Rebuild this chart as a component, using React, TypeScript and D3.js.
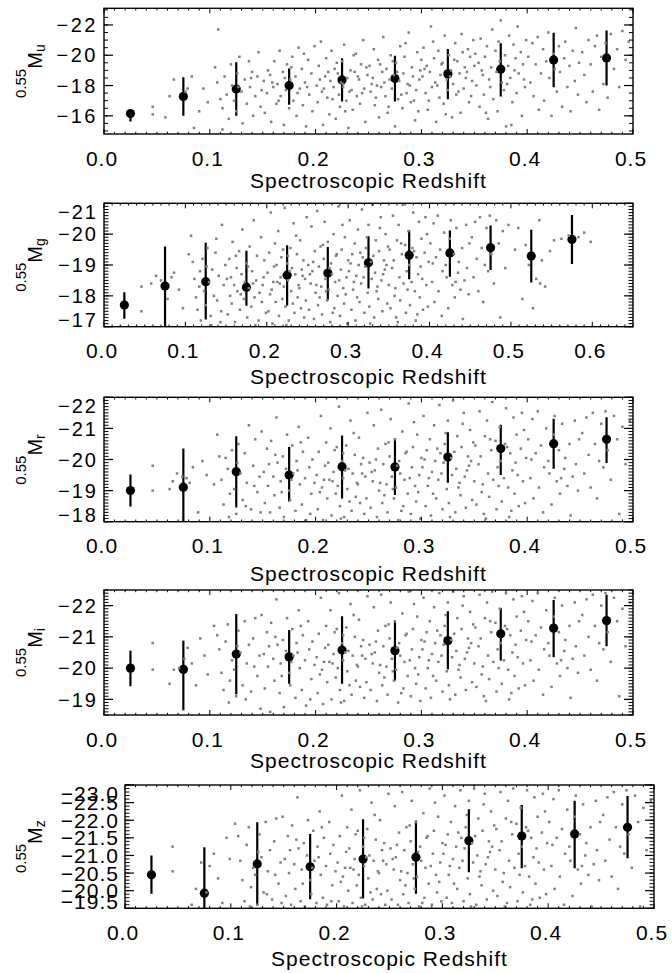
import React from "react";
import * as d3 from "d3";

type Pt = [number, number];

// ---------- binned means (black symbols) ----------
const binZ = [0.025, 0.075, 0.125, 0.175, 0.225, 0.275, 0.325, 0.375, 0.425, 0.475];
const binZg = [0.025, 0.075, 0.125, 0.175, 0.225, 0.275, 0.325, 0.375, 0.425, 0.475, 0.525, 0.575];

const uMean = [-16.15, -17.28, -17.77, -18.0, -18.37, -18.46, -18.77, -19.08, -19.69, -19.82];
const uUpper = [-16.33, -18.55, -19.54, -19.13, -19.8, -19.96, -20.42, -20.8, -21.49, -21.63];
const uLower = [-15.62, -16.0, -16.0, -16.73, -16.94, -16.94, -17.1, -17.27, -17.89, -18.0];

const gMean = [-17.7, -18.32, -18.46, -18.28, -18.67, -18.74, -19.07, -19.32, -19.39, -19.56, -19.29, -19.83];
const gUpper = [-18.12, -19.6, -19.72, -19.46, -19.64, -19.58, -19.93, -20.12, -20.12, -20.28, -20.14, -20.62];
const gLower = [-17.26, -17.0, -17.23, -17.68, -17.68, -17.87, -18.24, -18.54, -18.62, -18.84, -18.43, -19.03];

const rMean = [-19.0, -19.11, -19.61, -19.5, -19.77, -19.76, -20.08, -20.35, -20.51, -20.65];
const rUpper = [-19.52, -20.35, -20.75, -20.4, -20.77, -20.67, -20.88, -21.12, -21.31, -21.36];
const rLower = [-18.49, -17.9, -18.46, -18.65, -18.75, -18.86, -19.25, -19.5, -19.7, -19.89];

const iMean = [-20.0, -19.96, -20.45, -20.36, -20.58, -20.56, -20.88, -21.1, -21.28, -21.52];
const iUpper = [-20.56, -20.88, -21.73, -21.22, -21.66, -21.52, -21.82, -21.92, -22.18, -22.35];
const iLower = [-19.42, -18.65, -19.16, -19.5, -19.5, -19.6, -19.96, -20.24, -20.35, -20.7];

const zMean = [-20.45, -19.93, -20.76, -20.68, -20.9, -20.95, -21.42, -21.55, -21.61, -21.8];
const zUpper = [-21.0, -21.23, -21.94, -21.61, -22.03, -21.99, -22.31, -22.43, -22.55, -22.69];
const zLower = [-19.91, -19.45, -19.59, -19.76, -19.78, -19.91, -20.52, -20.64, -20.64, -20.92];

// ---------- tick labels ----------
const xTicksA = [0, 0.1, 0.2, 0.3, 0.4, 0.5];
const xTicksG = [0, 0.1, 0.2, 0.3, 0.4, 0.5, 0.6];
const uTicks = [-16, -18, -20, -22];
const gTicks = [-17, -18, -19, -20, -21];
const rTicks = [-18, -19, -20, -21, -22];
const iTicks = [-19, -20, -21, -22];
const zTicks = [-19.5, -20.0, -20.5, -21.0, -21.5, -22.0, -22.5, -23.0];

// ---------- individual galaxies (grey points): [redshift, magnitude] ----------
const uPoints: Pt[] = [
[.046,-16.6],[.046,-16.1],[.058,-15.9],[.062,-17.3],[.066,-18.4],[.077,-17.6],[.079,-17.8],[.083,-18.6],[.085,-15.2],[.090,-16.3],[.094,-17.8],[.098,-16.9],
[.108,-21.7],[.105,-19.2],[.107,-18.2],[.110,-17.1],[.112,-16.5],[.114,-18.6],[.116,-17.4],[.118,-15.8],[.120,-19.4],[.121,-18.0],[.123,-17.0],[.125,-16.3],[.126,-18.8],[.128,-19.9],[.130,-17.6],[.131,-15.5],[.133,-18.4],[.135,-16.8],[.137,-19.6],[.138,-17.9],[.140,-18.9],[.141,-16.0],[.143,-17.3],[.145,-18.6],[.146,-20.2],[.148,-16.6],[.149,-17.7],[.112,-15.1],[.127,-17.9],[.139,-18.5],
[.151,-18.3],[.152,-16.2],[.154,-17.5],[.155,-19.0],[.157,-18.7],[.158,-15.6],[.160,-17.9],[.161,-19.6],[.163,-16.8],[.164,-18.1],[.166,-20.3],[.167,-17.3],[.169,-18.9],[.170,-15.4],[.172,-17.7],[.173,-19.4],[.175,-16.5],[.176,-18.4],[.178,-19.9],[.179,-17.0],[.181,-18.6],[.182,-16.0],[.184,-20.5],[.185,-17.8],[.187,-19.1],[.188,-16.7],[.190,-18.2],[.191,-15.3],[.193,-19.7],[.194,-17.4],[.196,-18.8],[.197,-16.3],[.199,-20.6],[.159,-18.2],[.171,-18.5],[.183,-17.5],[.192,-17.9],[.177,-19.2],[.165,-17.0],[.189,-20.1],
[.201,-18.0],[.202,-16.9],[.203,-19.3],[.205,-20.9],[.206,-17.6],[.207,-15.4],[.209,-18.6],[.210,-19.8],[.211,-17.2],[.213,-16.1],[.214,-18.3],[.215,-20.3],[.217,-17.9],[.218,-19.1],[.219,-15.8],[.221,-18.8],[.222,-17.4],[.223,-16.6],[.225,-19.6],[.226,-18.1],[.227,-20.7],[.229,-17.0],[.230,-18.5],[.231,-15.2],[.233,-19.0],[.234,-17.7],[.235,-16.4],[.237,-18.9],[.238,-20.1],[.239,-17.3],[.241,-18.4],[.242,-16.8],[.243,-19.4],[.245,-21.0],[.246,-17.8],[.247,-15.6],[.249,-18.7],[.204,-18.4],[.212,-18.9],[.216,-17.1],[.220,-19.5],[.224,-18.2],[.228,-16.3],[.232,-17.6],[.236,-20.0],[.240,-18.6],[.244,-17.5],[.248,-19.2],[.208,-17.8],[.226,-17.9],
[.251,-19.3],[.252,-17.6],[.254,-18.5],[.255,-20.4],[.256,-16.7],[.258,-18.0],[.259,-19.7],[.260,-15.9],[.262,-17.9],[.263,-18.9],[.264,-21.2],[.266,-17.3],[.267,-19.1],[.268,-16.2],[.270,-18.4],[.271,-20.0],[.272,-17.8],[.274,-18.7],[.275,-15.3],[.276,-19.5],[.278,-17.1],[.279,-18.3],[.280,-20.6],[.282,-16.5],[.283,-18.8],[.284,-19.9],[.286,-17.5],[.287,-18.1],[.288,-21.5],[.290,-16.9],[.291,-19.2],[.292,-18.6],[.294,-15.7],[.295,-17.7],[.296,-20.2],[.298,-18.4],[.299,-19.0],[.253,-18.1],[.257,-17.2],[.261,-19.4],[.265,-18.2],[.269,-16.6],[.273,-19.6],[.277,-18.9],[.281,-17.4],[.285,-20.8],[.289,-18.0],[.293,-17.0],[.297,-16.3],[.300,-19.7],
[.301,-18.6],[.302,-20.5],[.304,-17.5],[.305,-19.3],[.306,-16.4],[.308,-18.9],[.309,-21.9],[.310,-17.9],[.312,-19.8],[.313,-18.2],[.314,-15.6],[.316,-20.3],[.317,-17.2],[.318,-18.7],[.320,-19.5],[.321,-16.8],[.322,-21.3],[.324,-18.4],[.325,-17.7],[.326,-20.0],[.328,-19.0],[.329,-15.9],[.330,-18.1],[.332,-20.8],[.333,-17.4],[.334,-19.6],[.336,-18.8],[.337,-16.2],[.338,-21.4],[.340,-17.8],[.341,-19.2],[.342,-18.5],[.344,-20.4],[.345,-16.9],[.346,-19.9],[.348,-18.3],[.349,-21.0],[.303,-19.1],[.307,-17.0],[.311,-20.9],[.315,-18.0],[.319,-19.4],[.323,-16.1],[.327,-18.6],[.331,-19.7],[.335,-17.6],[.339,-20.2],[.343,-18.9],[.347,-17.3],[.350,-19.3],
[.351,-20.1],[.352,-18.0],[.354,-19.5],[.355,-16.6],[.356,-21.1],[.358,-18.7],[.359,-17.4],[.360,-19.9],[.362,-20.6],[.363,-15.8],[.364,-18.4],[.366,-19.2],[.367,-21.7],[.368,-17.1],[.370,-20.3],[.371,-18.9],[.372,-16.3],[.374,-19.6],[.375,-22.3],[.376,-18.2],[.378,-17.7],[.379,-20.0],[.380,-15.3],[.382,-19.3],[.383,-21.3],[.384,-18.5],[.386,-16.9],[.387,-20.7],[.388,-19.0],[.390,-17.5],[.391,-21.9],[.392,-18.8],[.394,-20.2],[.395,-16.0],[.396,-19.4],[.398,-17.9],[.399,-21.0],[.357,-19.0],[.365,-17.9],[.373,-20.9],[.381,-18.1],[.389,-19.8],[.397,-18.4],[.361,-16.2],[.385,-15.4],
[.401,-19.9],[.403,-18.2],[.405,-20.8],[.406,-17.3],[.408,-19.4],[.410,-21.2],[.411,-16.4],[.413,-18.8],[.415,-20.4],[.416,-17.0],[.418,-19.6],[.420,-21.5],[.421,-18.5],[.423,-16.0],[.425,-20.1],[.426,-19.1],[.428,-17.6],[.430,-20.6],[.431,-18.9],[.433,-16.6],[.435,-19.8],[.436,-20.9],[.438,-17.9],[.440,-19.3],[.441,-16.3],[.443,-20.3],[.445,-18.3],[.446,-21.8],[.448,-17.4],[.449,-19.5],
[.452,-20.2],[.454,-18.7],[.456,-16.9],[.458,-21.0],[.460,-19.4],[.462,-17.6],[.464,-20.6],[.466,-21.3],[.468,-16.4],[.470,-19.9],[.472,-18.1],[.474,-20.8],[.476,-17.2],[.479,-21.4],[.482,-19.1],[.485,-20.4],[.487,-17.9],[.490,-21.6],[.493,-19.7],[.496,-20.9]
];

const gPoints: Pt[] = [
[.046,-18.3],[.046,-17.5],[.058,-18.4],[.064,-18.65],[.070,-18.5],[.078,-17.9],[.083,-18.6],[.086,-18.75],[.092,-18.2],[.097,-17.6],
[.104,-19.35],[.107,-19.95],[.109,-19.1],[.111,-18.55],[.113,-17.95],[.115,-17.55],[.117,-18.3],[.119,-17.2],[.121,-19.2],[.123,-18.15],[.125,-17.7],[.127,-19.55],[.129,-18.45],[.131,-17.35],[.133,-18.85],[.135,-18.0],[.137,-19.4],[.139,-17.85],[.141,-18.65],[.143,-17.15],[.145,-20.3],[.147,-18.35],[.149,-19.0],[.118,-18.8],[.132,-17.05],[.126,-18.95],[.138,-19.85],[.144,-17.5],
[.151,-18.55],[.152,-17.4],[.154,-19.2],[.155,-18.0],[.157,-17.75],[.158,-19.75],[.160,-18.35],[.161,-17.15],[.163,-18.9],[.164,-18.15],[.166,-19.45],[.167,-17.55],[.169,-18.7],[.170,-20.15],[.172,-17.9],[.173,-18.45],[.175,-19.05],[.176,-17.3],[.178,-18.25],[.179,-19.6],[.181,-17.65],[.182,-18.8],[.184,-20.45],[.185,-17.95],[.187,-18.5],[.188,-19.3],[.190,-17.2],[.191,-18.1],[.193,-19.9],[.194,-17.8],[.196,-18.6],[.197,-19.15],[.199,-17.45],[.156,-18.6],[.168,-18.05],[.177,-18.95],[.186,-17.05],[.195,-18.35],[.162,-19.3],[.183,-18.4],
[.201,-18.75],[.202,-17.5],[.203,-19.4],[.205,-20.7],[.206,-18.2],[.207,-17.1],[.209,-18.95],[.210,-19.7],[.211,-17.8],[.213,-18.45],[.214,-20.1],[.215,-17.35],[.217,-18.6],[.218,-19.25],[.219,-17.9],[.221,-18.3],[.222,-20.85],[.223,-17.65],[.225,-19.05],[.226,-18.5],[.227,-17.2],[.229,-19.55],[.230,-18.15],[.231,-18.9],[.233,-20.35],[.234,-17.45],[.235,-18.7],[.237,-19.35],[.238,-17.95],[.239,-18.35],[.241,-19.8],[.242,-17.6],[.243,-18.85],[.245,-19.15],[.246,-17.3],[.247,-18.55],[.249,-20.55],[.204,-18.05],[.212,-19.0],[.216,-18.4],[.220,-19.5],[.224,-17.05],[.228,-18.8],[.232,-17.75],[.236,-19.95],[.240,-18.25],[.244,-18.65],[.248,-17.85],[.208,-18.45],[.226,-19.3],
[.251,-19.0],[.252,-17.55],[.254,-18.4],[.255,-20.25],[.256,-18.8],[.258,-17.25],[.259,-19.45],[.260,-18.1],[.262,-20.75],[.263,-17.7],[.264,-18.95],[.266,-19.6],[.267,-18.3],[.268,-17.4],[.270,-19.2],[.271,-20.4],[.272,-18.55],[.274,-17.85],[.275,-19.75],[.276,-18.2],[.278,-17.15],[.279,-19.05],[.280,-18.7],[.282,-20.0],[.283,-17.6],[.284,-18.45],[.286,-19.35],[.287,-18.0],[.288,-20.9],[.290,-17.35],[.291,-18.85],[.292,-19.5],[.294,-18.25],[.295,-17.75],[.296,-19.9],[.298,-18.6],[.299,-17.1],[.253,-18.7],[.257,-19.1],[.261,-18.35],[.265,-17.95],[.269,-19.65],[.273,-18.15],[.277,-18.9],[.281,-17.45],[.285,-19.3],[.289,-18.5],[.293,-20.3],[.297,-18.05],[.300,-19.15],
[.301,-18.8],[.302,-20.45],[.304,-17.55],[.305,-19.35],[.306,-18.2],[.308,-19.7],[.309,-17.2],[.310,-18.65],[.312,-20.15],[.313,-19.0],[.314,-17.8],[.316,-18.4],[.317,-20.8],[.318,-19.25],[.320,-17.45],[.321,-18.95],[.322,-19.55],[.324,-18.1],[.325,-20.3],[.326,-17.65],[.328,-19.1],[.329,-18.55],[.330,-20.95],[.332,-17.3],[.333,-18.75],[.334,-19.8],[.336,-18.3],[.337,-17.9],[.338,-19.45],[.340,-20.55],[.341,-18.5],[.342,-17.5],[.344,-19.15],[.345,-18.85],[.346,-20.0],[.348,-17.75],[.349,-19.6],[.303,-19.05],[.307,-18.45],[.311,-17.95],[.315,-19.4],[.319,-18.6],[.323,-19.9],[.327,-17.1],[.331,-19.3],[.335,-18.15],[.339,-20.2],[.343,-18.7],[.347,-19.0],[.350,-18.35],
[.351,-19.5],[.352,-17.6],[.354,-18.9],[.355,-20.6],[.356,-19.15],[.358,-18.25],[.359,-17.3],[.360,-19.8],[.362,-20.3],[.363,-18.6],[.364,-17.85],[.366,-19.35],[.367,-20.95],[.368,-18.4],[.370,-19.65],[.371,-17.45],[.372,-18.8],[.374,-20.1],[.375,-19.0],[.376,-17.7],[.378,-18.45],[.379,-19.55],[.380,-20.7],[.382,-18.15],[.383,-17.2],[.384,-19.25],[.386,-18.7],[.387,-20.4],[.388,-17.95],[.390,-19.85],[.391,-18.55],[.392,-17.55],[.394,-19.4],[.395,-20.55],[.396,-18.35],[.398,-17.65],[.399,-19.1],[.357,-18.0],[.365,-19.7],[.373,-18.2],[.381,-19.45],[.389,-18.95],[.397,-20.0],[.361,-17.15],[.385,-17.4],
[.401,-19.7],[.403,-18.45],[.405,-20.35],[.406,-17.8],[.408,-19.25],[.410,-20.6],[.411,-18.15],[.413,-19.5],[.415,-17.35],[.416,-18.8],[.418,-20.05],[.420,-19.0],[.421,-18.6],[.423,-17.6],[.425,-19.85],[.426,-20.45],[.428,-18.35],[.430,-19.35],[.431,-17.95],[.433,-20.2],[.435,-18.75],[.436,-19.1],[.438,-18.2],[.440,-19.55],[.441,-17.25],[.443,-18.5],[.445,-20.3],[.446,-18.9],[.448,-18.05],[.449,-19.7],[.404,-19.05],[.432,-18.45],
[.452,-19.9],[.454,-18.6],[.456,-20.4],[.458,-19.2],[.460,-18.15],[.462,-20.55],[.464,-19.55],[.466,-17.8],[.468,-19.0],[.470,-20.2],[.472,-18.8],[.474,-20.6],[.476,-19.35],[.479,-18.4],[.482,-20.45],[.485,-19.7],[.487,-17.3],[.490,-20.1],[.493,-18.9],[.497,-20.3],
[.505,-19.5],[.509,-20.2],[.514,-17.9],[.518,-19.65],[.522,-19.0],[.527,-17.6],[.531,-18.55],[.535,-20.45],[.536,-18.4],[.538,-19.15],[.542,-18.3],[.548,-19.45],[.553,-19.8],[.562,-19.85],[.571,-19.95],[.583,-19.9],[.590,-20.05],[.598,-19.75]
];

const rPoints: Pt[] = [
[.046,-19.8],[.046,-19.0],[.062,-19.05],[.065,-19.3],[.069,-19.55],[.074,-19.45],[.078,-19.4],[.081,-19.25],[.084,-19.75],[.089,-18.3],[.093,-19.95],[.097,-19.5],
[.104,-19.2],[.107,-20.8],[.109,-20.1],[.111,-19.35],[.113,-18.55],[.115,-20.05],[.117,-19.7],[.119,-18.9],[.121,-20.3],[.123,-19.05],[.125,-18.25],[.127,-20.5],[.129,-19.55],[.131,-18.7],[.133,-20.2],[.135,-19.25],[.137,-21.1],[.139,-18.4],[.141,-19.8],[.143,-20.65],[.145,-18.95],[.147,-19.45],[.149,-20.9],[.118,-18.15],[.126,-19.9],[.134,-18.5],[.142,-19.15],[.148,-18.3],
[.151,-19.6],[.152,-18.6],[.154,-20.35],[.155,-19.15],[.157,-18.3],[.158,-20.6],[.160,-19.45],[.161,-18.85],[.163,-21.35],[.164,-19.9],[.166,-18.45],[.167,-19.3],[.169,-20.1],[.170,-18.15],[.172,-19.7],[.173,-20.8],[.175,-19.0],[.176,-18.7],[.178,-20.45],[.179,-19.55],[.181,-18.35],[.182,-19.95],[.184,-21.05],[.185,-19.2],[.187,-18.55],[.188,-20.25],[.190,-19.4],[.191,-18.05],[.193,-20.7],[.194,-19.75],[.196,-18.9],[.197,-20.0],[.199,-19.25],[.156,-19.85],[.168,-18.95],[.177,-19.35],[.186,-20.55],[.195,-18.25],[.162,-20.15],[.183,-19.65],
[.201,-19.5],[.202,-18.4],[.203,-20.25],[.205,-21.4],[.206,-19.1],[.207,-18.05],[.209,-19.8],[.210,-20.55],[.211,-18.75],[.213,-19.35],[.214,-21.0],[.215,-18.2],[.217,-19.6],[.218,-20.3],[.219,-18.9],[.221,-19.15],[.222,-21.7],[.223,-18.5],[.225,-19.95],[.226,-19.4],[.227,-18.15],[.229,-20.45],[.230,-19.05],[.231,-19.7],[.233,-21.25],[.234,-18.35],[.235,-19.55],[.237,-20.15],[.238,-18.8],[.239,-19.25],[.241,-20.7],[.242,-18.6],[.243,-19.85],[.245,-20.05],[.246,-18.25],[.247,-19.45],[.249,-21.5],[.204,-18.95],[.212,-19.9],[.216,-19.3],[.220,-20.4],[.224,-18.1],[.228,-19.65],[.232,-18.65],[.236,-20.85],[.240,-19.2],[.244,-19.55],[.248,-18.75],[.208,-19.35],[.226,-20.2],
[.251,-19.9],[.252,-18.45],[.254,-19.3],[.255,-21.1],[.256,-19.65],[.258,-18.15],[.259,-20.35],[.260,-19.0],[.262,-21.6],[.263,-18.6],[.264,-19.85],[.266,-20.5],[.267,-19.2],[.268,-18.3],[.270,-20.1],[.271,-21.3],[.272,-19.45],[.274,-18.75],[.275,-20.65],[.276,-19.1],[.278,-18.05],[.279,-19.95],[.280,-19.55],[.282,-20.9],[.283,-18.5],[.284,-19.35],[.286,-20.25],[.287,-18.9],[.288,-21.8],[.290,-18.25],[.291,-19.75],[.292,-20.4],[.294,-19.15],[.295,-18.65],[.296,-20.8],[.298,-19.5],[.299,-18.1],[.253,-19.6],[.257,-20.0],[.261,-19.25],[.265,-18.85],[.269,-20.55],[.273,-19.05],[.277,-19.8],[.281,-18.35],[.285,-20.2],[.289,-19.4],[.293,-21.2],[.297,-18.95],[.300,-20.05],
[.301,-19.75],[.302,-21.4],[.304,-18.5],[.305,-20.3],[.306,-19.15],[.308,-20.65],[.309,-18.2],[.310,-19.6],[.312,-21.1],[.313,-19.95],[.314,-18.75],[.316,-19.35],[.317,-21.75],[.318,-20.2],[.320,-18.4],[.321,-19.9],[.322,-20.5],[.324,-19.05],[.325,-21.25],[.326,-18.6],[.328,-20.05],[.329,-19.5],[.330,-21.9],[.332,-18.3],[.333,-19.7],[.334,-20.75],[.336,-19.25],[.337,-18.85],[.338,-20.4],[.340,-21.5],[.341,-19.45],[.342,-18.45],[.344,-20.1],[.345,-19.8],[.346,-20.95],[.348,-18.7],[.349,-20.55],[.303,-20.0],[.307,-19.4],[.311,-18.9],[.315,-20.35],[.319,-19.55],[.323,-20.85],[.327,-18.15],[.331,-20.25],[.335,-19.1],[.339,-21.15],[.343,-19.65],[.347,-19.95],[.350,-19.3],
[.351,-20.45],[.352,-18.55],[.354,-19.85],[.355,-21.55],[.356,-20.1],[.358,-19.2],[.359,-18.25],[.360,-20.75],[.362,-21.25],[.363,-19.55],[.364,-18.8],[.366,-20.3],[.367,-21.85],[.368,-19.35],[.370,-20.6],[.371,-18.4],[.372,-19.75],[.374,-21.05],[.375,-19.95],[.376,-18.65],[.378,-19.4],[.379,-20.5],[.380,-21.65],[.382,-19.1],[.383,-18.15],[.384,-20.2],[.386,-19.65],[.387,-21.35],[.388,-18.9],[.390,-20.8],[.391,-19.5],[.392,-18.5],[.394,-20.35],[.395,-21.5],[.396,-19.3],[.398,-18.6],[.399,-20.05],[.357,-18.95],[.365,-20.65],[.373,-19.15],[.381,-20.4],[.389,-19.9],[.397,-20.95],[.361,-18.1],[.385,-18.35],
[.401,-20.65],[.403,-19.4],[.405,-21.3],[.406,-18.75],[.408,-20.2],[.410,-21.55],[.411,-19.1],[.413,-20.45],[.415,-18.3],[.416,-19.75],[.418,-21.0],[.420,-19.95],[.421,-19.55],[.423,-18.55],[.425,-20.8],[.426,-21.4],[.428,-19.3],[.430,-20.3],[.431,-18.9],[.433,-21.15],[.435,-19.7],[.436,-20.05],[.438,-19.15],[.440,-20.5],[.441,-18.2],[.443,-19.45],[.445,-21.25],[.446,-19.85],[.448,-19.0],[.449,-20.65],[.404,-20.0],[.432,-19.4],
[.452,-20.85],[.454,-19.55],[.456,-21.35],[.458,-20.15],[.460,-19.1],[.462,-21.5],[.464,-20.5],[.466,-18.75],[.468,-19.95],[.470,-21.15],[.472,-19.75],[.474,-21.55],[.476,-20.3],[.479,-19.35],[.482,-21.4],[.485,-20.65],[.487,-18.25],[.490,-21.05],[.493,-19.85],[.497,-21.25]
];

const iPoints: Pt[] = [
[.046,-20.8],[.046,-19.95],[.062,-19.5],[.066,-19.95],[.071,-20.0],[.076,-20.3],[.079,-20.65],[.083,-20.15],[.087,-19.45],[.091,-20.95],[.095,-20.4],[.098,-19.8],
[.104,-21.35],[.107,-21.05],[.109,-20.6],[.111,-19.85],[.113,-19.3],[.115,-20.85],[.117,-21.4],[.119,-19.6],[.121,-20.25],[.123,-19.95],[.125,-19.1],[.127,-21.2],[.129,-20.5],[.131,-19.45],[.133,-21.5],[.135,-20.15],[.137,-20.75],[.139,-19.25],[.141,-20.95],[.143,-21.6],[.145,-19.75],[.147,-20.4],[.149,-21.7],[.118,-18.9],[.126,-20.7],[.134,-19.0],[.142,-20.05],[.148,-18.7],
[.151,-20.45],[.152,-19.35],[.154,-21.15],[.155,-20.05],[.157,-18.6],[.158,-21.45],[.160,-20.3],[.161,-19.6],[.163,-22.2],[.164,-20.75],[.166,-19.2],[.167,-20.15],[.169,-20.9],[.170,-18.75],[.172,-20.55],[.173,-21.6],[.175,-19.85],[.176,-19.45],[.178,-21.25],[.179,-20.4],[.181,-19.05],[.182,-20.8],[.184,-21.85],[.185,-20.0],[.187,-19.3],[.188,-21.05],[.190,-20.25],[.191,-18.8],[.193,-21.5],[.194,-20.6],[.196,-19.65],[.197,-20.85],[.199,-20.1],[.156,-20.7],[.168,-19.75],[.177,-20.2],[.186,-21.35],[.195,-19.0],[.162,-21.0],[.183,-20.5],
[.201,-20.35],[.202,-19.2],[.203,-21.1],[.205,-22.25],[.206,-19.95],[.207,-18.85],[.209,-20.65],[.210,-21.35],[.211,-19.55],[.213,-20.2],[.214,-21.85],[.215,-19.0],[.217,-20.45],[.218,-21.15],[.219,-19.7],[.221,-20.0],[.222,-22.4],[.223,-19.3],[.225,-20.8],[.226,-20.25],[.227,-18.95],[.229,-21.3],[.230,-19.9],[.231,-20.55],[.233,-22.05],[.234,-19.15],[.235,-20.4],[.237,-21.0],[.238,-19.6],[.239,-20.1],[.241,-21.55],[.242,-19.4],[.243,-20.7],[.245,-20.9],[.246,-19.05],[.247,-20.3],[.249,-22.3],[.204,-19.8],[.212,-20.75],[.216,-20.15],[.220,-21.25],[.224,-18.9],[.228,-20.5],[.232,-19.45],[.236,-21.7],[.240,-20.05],[.244,-20.4],[.248,-19.55],[.208,-20.2],[.226,-21.05],
[.251,-20.75],[.252,-19.3],[.254,-20.15],[.255,-21.95],[.256,-20.5],[.258,-18.95],[.259,-21.2],[.260,-19.85],[.262,-22.35],[.263,-19.45],[.264,-20.7],[.266,-21.35],[.267,-20.05],[.268,-19.15],[.270,-20.95],[.271,-22.1],[.272,-20.3],[.274,-19.6],[.275,-21.5],[.276,-19.95],[.278,-18.9],[.279,-20.8],[.280,-20.4],[.282,-21.75],[.283,-19.35],[.284,-20.2],[.286,-21.1],[.287,-19.75],[.288,-22.45],[.290,-19.1],[.291,-20.6],[.292,-21.25],[.294,-20.0],[.295,-19.5],[.296,-21.65],[.298,-20.35],[.299,-18.95],[.253,-20.45],[.257,-20.85],[.261,-20.1],[.265,-19.7],[.269,-21.4],[.273,-19.9],[.277,-20.65],[.281,-19.2],[.285,-21.05],[.289,-20.25],[.293,-22.05],[.297,-19.8],[.300,-20.9],
[.301,-20.6],[.302,-22.25],[.304,-19.35],[.305,-21.15],[.306,-20.0],[.308,-21.5],[.309,-19.05],[.310,-20.45],[.312,-21.95],[.313,-20.8],[.314,-19.6],[.316,-20.2],[.317,-22.4],[.318,-21.05],[.320,-19.25],[.321,-20.75],[.322,-21.35],[.324,-19.9],[.325,-22.1],[.326,-19.45],[.328,-20.9],[.329,-20.35],[.330,-22.45],[.332,-19.15],[.333,-20.55],[.334,-21.6],[.336,-20.1],[.337,-19.7],[.338,-21.25],[.340,-22.3],[.341,-20.3],[.342,-19.3],[.344,-20.95],[.345,-20.65],[.346,-21.8],[.348,-19.55],[.349,-21.4],[.303,-20.85],[.307,-20.25],[.311,-19.75],[.315,-21.2],[.319,-20.4],[.323,-21.7],[.327,-19.0],[.331,-21.1],[.335,-19.95],[.339,-22.0],[.343,-20.5],[.347,-20.8],[.350,-20.15],
[.351,-21.3],[.352,-19.4],[.354,-20.7],[.355,-22.35],[.356,-20.95],[.358,-20.05],[.359,-19.1],[.360,-21.6],[.362,-22.1],[.363,-20.4],[.364,-19.65],[.366,-21.15],[.367,-22.45],[.368,-20.2],[.370,-21.45],[.371,-19.25],[.372,-20.6],[.374,-21.9],[.375,-20.8],[.376,-19.5],[.378,-20.25],[.379,-21.35],[.380,-22.4],[.382,-19.95],[.383,-19.0],[.384,-21.05],[.386,-20.5],[.387,-22.2],[.388,-19.75],[.390,-21.65],[.391,-20.35],[.392,-19.35],[.394,-21.2],[.395,-22.3],[.396,-20.15],[.398,-19.45],[.399,-20.9],[.357,-19.8],[.365,-21.5],[.373,-20.0],[.381,-21.25],[.389,-20.75],[.397,-21.8],[.361,-18.95],[.385,-19.2],
[.401,-21.5],[.403,-20.25],[.405,-22.15],[.406,-19.6],[.408,-21.05],[.410,-22.4],[.411,-19.95],[.413,-21.3],[.415,-19.15],[.416,-20.6],[.418,-21.85],[.420,-20.8],[.421,-20.4],[.423,-19.4],[.425,-21.65],[.426,-22.25],[.428,-20.15],[.430,-21.15],[.431,-19.75],[.433,-22.0],[.435,-20.55],[.436,-20.9],[.438,-20.0],[.440,-21.35],[.441,-19.05],[.443,-20.3],[.445,-22.1],[.446,-20.7],[.448,-19.85],[.449,-21.5],[.404,-20.85],[.432,-20.25],
[.452,-21.7],[.454,-20.4],[.456,-22.2],[.458,-21.0],[.460,-19.95],[.462,-22.35],[.464,-21.35],[.466,-19.6],[.468,-20.8],[.470,-22.0],[.472,-20.6],[.474,-22.4],[.476,-21.15],[.479,-20.2],[.482,-22.25],[.485,-21.5],[.487,-19.1],[.490,-21.9],[.493,-20.7],[.497,-22.1]
];

const zPoints: Pt[] = [
[.045,-21.25],[.045,-20.55],[.063,-19.6],[.067,-20.05],[.072,-20.8],[.077,-19.95],[.080,-20.7],[.084,-21.05],[.088,-20.35],[.092,-19.65],[.096,-21.5],[.099,-20.9],
[.104,-21.9],[.107,-21.55],[.109,-20.85],[.111,-20.3],[.113,-19.7],[.115,-21.3],[.117,-21.8],[.119,-20.1],[.121,-20.65],[.123,-20.45],[.125,-19.6],[.127,-21.6],[.129,-20.95],[.131,-19.95],[.133,-21.95],[.135,-20.55],[.137,-21.15],[.139,-19.75],[.141,-21.4],[.143,-22.05],[.145,-20.2],[.147,-20.8],[.149,-22.1],[.118,-19.55],[.126,-21.1],[.134,-19.9],[.142,-20.45],[.148,-19.65],
[.151,-20.9],[.152,-19.85],[.154,-21.55],[.155,-20.5],[.157,-19.6],[.158,-21.85],[.160,-20.75],[.161,-20.05],[.163,-22.65],[.164,-21.2],[.166,-19.7],[.167,-20.6],[.169,-21.35],[.170,-19.55],[.172,-21.0],[.173,-22.0],[.175,-20.3],[.176,-19.9],[.178,-21.7],[.179,-20.85],[.181,-19.65],[.182,-21.25],[.184,-22.25],[.185,-20.45],[.187,-19.8],[.188,-21.5],[.190,-20.7],[.191,-19.6],[.193,-21.95],[.194,-21.05],[.196,-20.15],[.197,-21.3],[.199,-20.55],[.156,-21.15],[.168,-20.2],[.177,-20.65],[.186,-21.8],[.195,-19.7],[.162,-21.45],[.183,-20.95],
[.201,-20.8],[.202,-19.7],[.203,-21.55],[.205,-22.7],[.206,-20.4],[.207,-19.55],[.209,-21.1],[.210,-21.8],[.211,-20.0],[.213,-20.65],[.214,-22.3],[.215,-19.65],[.217,-20.9],[.218,-21.6],[.219,-20.15],[.221,-20.45],[.222,-22.85],[.223,-19.8],[.225,-21.25],[.226,-20.7],[.227,-19.6],[.229,-21.75],[.230,-20.35],[.231,-21.0],[.233,-22.5],[.234,-19.75],[.235,-20.85],[.237,-21.45],[.238,-20.05],[.239,-20.55],[.241,-22.0],[.242,-19.9],[.243,-21.15],[.245,-21.35],[.246,-19.6],[.247,-20.75],[.249,-22.75],[.204,-20.25],[.212,-21.2],[.216,-20.6],[.220,-21.7],[.224,-19.55],[.228,-20.95],[.232,-19.95],[.236,-22.15],[.240,-20.5],[.244,-20.85],[.248,-20.0],[.208,-20.65],[.226,-21.5],
[.251,-21.2],[.252,-19.75],[.254,-20.6],[.255,-22.4],[.256,-20.95],[.258,-19.6],[.259,-21.65],[.260,-20.3],[.262,-22.8],[.263,-19.9],[.264,-21.15],[.266,-21.8],[.267,-20.5],[.268,-19.65],[.270,-21.4],[.271,-22.55],[.272,-20.75],[.274,-20.05],[.275,-21.95],[.276,-20.4],[.278,-19.55],[.279,-21.25],[.280,-20.85],[.282,-22.2],[.283,-19.8],[.284,-20.65],[.286,-21.55],[.287,-20.2],[.288,-22.9],[.290,-19.6],[.291,-21.05],[.292,-21.7],[.294,-20.45],[.295,-19.95],[.296,-22.1],[.298,-20.8],[.299,-19.7],[.253,-20.9],[.257,-21.3],[.261,-20.55],[.265,-20.15],[.269,-21.85],[.273,-20.35],[.277,-21.1],[.281,-19.65],[.285,-21.5],[.289,-20.7],[.293,-22.5],[.297,-20.25],[.300,-21.35],
[.301,-21.05],[.302,-22.7],[.304,-19.8],[.305,-21.6],[.306,-20.45],[.308,-21.95],[.309,-19.65],[.310,-20.9],[.312,-22.4],[.313,-21.25],[.314,-20.05],[.316,-20.65],[.317,-22.85],[.318,-21.5],[.320,-19.7],[.321,-21.2],[.322,-21.8],[.324,-20.35],[.325,-22.55],[.326,-19.9],[.328,-21.35],[.329,-20.8],[.330,-22.9],[.332,-19.6],[.333,-21.0],[.334,-22.05],[.336,-20.55],[.337,-20.15],[.338,-21.7],[.340,-22.75],[.341,-20.75],[.342,-19.75],[.344,-21.4],[.345,-21.1],[.346,-22.25],[.348,-20.0],[.349,-21.85],[.303,-21.3],[.307,-20.7],[.311,-20.2],[.315,-21.65],[.319,-20.85],[.323,-22.15],[.327,-19.55],[.331,-21.55],[.335,-20.4],[.339,-22.45],[.343,-20.95],[.347,-21.25],[.350,-20.6],
[.351,-21.75],[.352,-19.85],[.354,-21.15],[.355,-22.8],[.356,-21.4],[.358,-20.5],[.359,-19.55],[.360,-22.05],[.362,-22.55],[.363,-20.85],[.364,-20.1],[.366,-21.6],[.367,-22.9],[.368,-20.65],[.370,-21.9],[.371,-19.7],[.372,-21.05],[.374,-22.35],[.375,-21.25],[.376,-19.95],[.378,-20.7],[.379,-21.8],[.380,-22.85],[.382,-20.4],[.383,-19.6],[.384,-21.5],[.386,-20.95],[.387,-22.65],[.388,-20.2],[.390,-22.1],[.391,-20.8],[.392,-19.8],[.394,-21.65],[.395,-22.75],[.396,-20.6],[.398,-19.9],[.399,-21.35],[.357,-20.25],[.365,-21.95],[.373,-20.45],[.381,-21.7],[.389,-21.2],[.397,-22.25],[.361,-19.65],[.385,-19.75],
[.401,-21.95],[.403,-20.7],[.405,-22.6],[.406,-20.05],[.408,-21.5],[.410,-22.85],[.411,-20.4],[.413,-21.75],[.415,-19.6],[.416,-21.05],[.418,-22.3],[.420,-21.25],[.421,-20.85],[.423,-19.85],[.425,-22.1],[.426,-22.7],[.428,-20.6],[.430,-21.6],[.431,-20.2],[.433,-22.45],[.435,-21.0],[.436,-21.35],[.438,-20.45],[.440,-21.8],[.441,-19.55],[.443,-20.75],[.445,-22.55],[.446,-21.15],[.448,-20.3],[.449,-21.95],[.404,-21.3],[.432,-20.7],
[.452,-22.15],[.454,-20.85],[.456,-22.65],[.458,-21.45],[.460,-20.4],[.462,-22.8],[.464,-21.8],[.466,-20.05],[.468,-21.25],[.470,-22.45],[.472,-21.05],[.474,-22.85],[.476,-21.6],[.479,-20.65],[.482,-22.7],[.485,-21.95],[.487,-19.55],[.490,-22.35],[.493,-21.15],[.497,-22.55]
];

// ---------- layout ----------
const FONT = "'Liberation Sans', Arial, Helvetica, sans-serif";

type PanelCfg = {
  band: string;
  pts: Pt[];
  bz: number[];
  mean: number[];
  upper: number[];
  lower: number[];
  xTicks: number[];
  yTicks: number[];
  xMax: number;
  yDom: [number, number];
  yMinor: number;
  decimals: number;
  left: number; right: number; top: number; bottom: number;
  titleY: number;
  yLabelSize: number;
  yLabelSpacing: number;
};

const panels: PanelCfg[] = [
  { band: "u", pts: uPoints, bz: binZ, mean: uMean, upper: uUpper, lower: uLower, xTicks: xTicksA, yTicks: uTicks,
    xMax: 0.5, yDom: [-14.8, -23.1], yMinor: 0.5, decimals: 0, left: 104, right: 633, top: 8.3, bottom: 134, titleY: 188, yLabelSize: 20, yLabelSpacing: 2.5 },
  { band: "g", pts: gPoints, bz: binZg, mean: gMean, upper: gUpper, lower: gLower, xTicks: xTicksG, yTicks: gTicks,
    xMax: 0.65, yDom: [-17, -21], yMinor: 0.1, decimals: 0, left: 104, right: 633, top: 203.3, bottom: 326.7, titleY: 384, yLabelSize: 20, yLabelSpacing: 2 },
  { band: "r", pts: rPoints, bz: binZ, mean: rMean, upper: rUpper, lower: rLower, xTicks: xTicksA, yTicks: rTicks,
    xMax: 0.5, yDom: [-18, -22], yMinor: 0.1, decimals: 0, left: 104, right: 633, top: 397.3, bottom: 521.7, titleY: 581, yLabelSize: 20, yLabelSpacing: 2 },
  { band: "i", pts: iPoints, bz: binZ, mean: iMean, upper: iUpper, lower: iLower, xTicks: xTicksA, yTicks: iTicks,
    xMax: 0.5, yDom: [-18.5, -22.5], yMinor: 0.1, decimals: 0, left: 104, right: 633, top: 590, bottom: 715, titleY: 768, yLabelSize: 20, yLabelSpacing: 2 },
  { band: "z", pts: zPoints, bz: binZ, mean: zMean, upper: zUpper, lower: zLower, xTicks: xTicksA, yTicks: zTicks,
    xMax: 0.5, yDom: [-19.5, -23], yMinor: 0.1, decimals: 1, left: 125, right: 654, top: 785, bottom: 908.3, titleY: 966, yLabelSize: 21, yLabelSpacing: 1 },
];

function fmtY(v: number, dec: number) {
  const s = Math.abs(v).toFixed(dec);
  return (v < 0 ? "\u2212" : "") + s;
}

function Panel({ c, idx }: { c: PanelCfg; idx: number }) {
  const x = d3.scaleLinear().domain([0, c.xMax]).range([c.left, c.right]);
  const y = d3.scaleLinear().domain(c.yDom).range([c.bottom, c.top]);
  const clipId = `clip${idx}`;
  const lo = Math.min(c.yDom[0], c.yDom[1]);
  const hi = Math.max(c.yDom[0], c.yDom[1]);
  const xMinor = d3.range(0, c.xMax + 1e-6, 0.01);
  const yMinor = d3.range(Math.ceil(lo / c.yMinor - 1e-6) * c.yMinor, hi + 1e-6, c.yMinor);
  const midY = (c.top + c.bottom) / 2;
  const majorLen = 9, minorLen = c.yMinor >= 0.5 ? 4 : 4.5;

  return (
    <g>
      <defs>
        <clipPath id={clipId}>
          <rect x={c.left} y={c.top} width={c.right - c.left} height={c.bottom - c.top} />
        </clipPath>
      </defs>

      {/* error bars + means */}
      <g clipPath={`url(#${clipId})`}>
        {c.bz.map((z, k) => (
          <line key={"e" + k} x1={x(z)} x2={x(z)} y1={y(c.upper[k])} y2={y(c.lower[k])}
            stroke="#000" strokeWidth={2.2} />
        ))}
        {c.bz.map((z, k) => (
          <circle key={"m" + k} cx={x(z)} cy={y(c.mean[k])} r={4.6} fill="#000" />
        ))}
        {c.pts.map((p, k) => (
          <rect key={"p" + k} x={x(p[0]) - 1.25} y={y(p[1]) - 1.25} width={2.5} height={2.5} fill="#808080" />
        ))}
      </g>

      {/* frame */}
      <rect x={c.left} y={c.top} width={c.right - c.left} height={c.bottom - c.top}
        fill="none" stroke="#000" strokeWidth={1.4} />

      {/* x ticks */}
      {xMinor.map((v, k) => {
        const major = Math.abs(v * 10 - Math.round(v * 10)) < 1e-6;
        const len = major ? 5 : 2.2;
        return (
          <g key={"xt" + k}>
            <line x1={x(v)} x2={x(v)} y1={c.bottom} y2={c.bottom - len} stroke="#000" strokeWidth={1} />
            <line x1={x(v)} x2={x(v)} y1={c.top} y2={c.top + len} stroke="#000" strokeWidth={1} />
          </g>
        );
      })}
      {/* y minor ticks */}
      {yMinor.map((v, k) => (
        <g key={"ym" + k}>
          <line x1={c.left} x2={c.left + minorLen} y1={y(v)} y2={y(v)} stroke="#000" strokeWidth={1} />
          <line x1={c.right} x2={c.right - minorLen} y1={y(v)} y2={y(v)} stroke="#000" strokeWidth={1} />
        </g>
      ))}
      {/* y major ticks */}
      {c.yTicks.map((v, k) => (
        <g key={"yM" + k}>
          <line x1={c.left} x2={c.left + majorLen} y1={y(v)} y2={y(v)} stroke="#000" strokeWidth={1.2} />
          <line x1={c.right} x2={c.right - majorLen} y1={y(v)} y2={y(v)} stroke="#000" strokeWidth={1.2} />
        </g>
      ))}

      {/* x tick labels */}
      {c.xTicks.map((v, k) => (
        <text key={"xl" + k} x={x(v) - 2} y={c.bottom + 31.5} textAnchor="middle"
          fontFamily={FONT} fontSize={21} letterSpacing={1}>
          {d3.format(".1f")(v)}
        </text>
      ))}
      {/* y tick labels */}
      {c.yTicks.map((v, k) => {
        let py = y(v);
        if (Math.abs(py - c.top) < 2) py += 8;
        else if (Math.abs(py - c.bottom) < 2) py -= 7;
        return (
          <text key={"yl" + k} x={c.left - 6} y={py} dy="0.36em" textAnchor="end"
            fontFamily={FONT} fontSize={c.yLabelSize} letterSpacing={c.yLabelSpacing}>
            {fmtY(v, c.decimals)}
          </text>
        );
      })}

      {/* x title */}
      <text x={(c.left + c.right) / 2} y={c.titleY} textAnchor="middle" fontFamily={FONT}
        fontSize={21} letterSpacing={1}>
        Spectroscopic Redshift
      </text>

      {/* y title */}
      <text transform={`translate(42,${midY}) rotate(-90)`} textAnchor="middle" fontFamily={FONT} fontSize={20}>
        <tspan fontSize={15} dy={-16}>0.55</tspan>
        <tspan dy={16}>M</tspan>
        <tspan fontSize={14} dy={3}>{c.band}</tspan>
      </text>
    </g>
  );
}

export default function App() {
  return (
    <svg width={672} height={973} viewBox="0 0 672 973"
      style={{ position: "absolute", left: 0, top: 0, background: "#fff" }}>
      <rect x={0} y={0} width={672} height={973} fill="#fff" />
      {panels.map((c, i) => (
        <Panel key={c.band} c={c} idx={i} />
      ))}
    </svg>
  );
}
